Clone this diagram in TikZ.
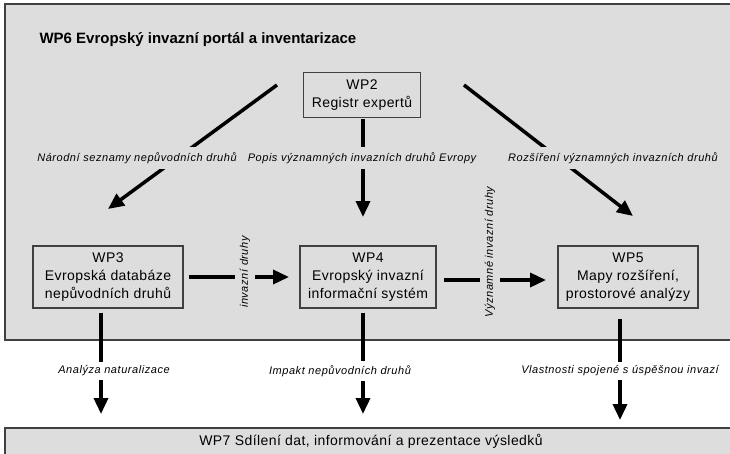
\documentclass[tikz,border=0pt]{standalone}
\usepackage{fontspec}
\setmainfont{Liberation Sans}
\newfontfamily\boxfont[LetterSpace=3]{Liberation Sans}
\newfontfamily\lblfont[LetterSpace=5]{Liberation Sans}
\usepackage{xcolor}
\definecolor{panelgray}{HTML}{DDDDDD}
\definecolor{edgegray}{HTML}{404040}
\usetikzlibrary{arrows.meta}

\tikzset{
  wpbox/.style={draw=edgegray, line width=1.2pt, fill=panelgray, align=center,
    minimum height=62pt, inner sep=0pt, font=\boxfont\fontsize{14}{18}\selectfont},
  flow/.style={line width=3.5pt, -{Triangle[length=16pt, width=14pt]}},
  lbl/.style={font=\lblfont\itshape\fontsize{11}{13}\selectfont, fill=panelgray,
    inner xsep=2pt, inner ysep=5pt},
  lblout/.style={lbl, fill=white, inner ysep=4pt},
}

\begin{document}
\begin{tikzpicture}[x=1pt, y=-1pt]
  \clip (0,0) rectangle (730,453);

  % --- WP6 panel ---
  \draw[edgegray, line width=1.5pt, fill=panelgray] (5,4) rectangle (745,340);
  \node[anchor=west, font=\bfseries\fontsize{15}{18}\selectfont] (wp6) at (36,40)
    {WP6 Evropský invazní portál a inventarizace};

  % --- WP7 panel ---
  \draw[edgegray, line width=1.5pt, fill=panelgray] (5,428) rectangle (745,470);
  \node[font=\boxfont\fontsize{14}{18}\selectfont] (wp7) at (371,441)
    {WP7 Sdílení dat, informování a prezentace výsledků};

  % --- work packages ---
  \node[wpbox, minimum width=117pt, minimum height=45pt] (wp2) at (362,95) {WP2\\Registr expertů};
  \node[wpbox, minimum width=150pt] (wp3) at (108,277) {WP3\\Evropská databáze\\nepůvodních druhů};
  \node[wpbox, minimum width=136pt] (wp4) at (368,277) {WP4\\Evropský invazní\\informační systém};
  \node[wpbox, minimum width=140pt] (wp5) at (628,277) {WP5\\Mapy rozšíření,\\prostorové analýzy};

  % --- free ends ---
  \coordinate (natstart) at (277,85);
  \coordinate (nattip) at (108,209);
  \coordinate (popistip) at (363,217);
  \coordinate (rozstart) at (464,85);
  \coordinate (roztip) at (633,216);
  \coordinate (invtip) at (289,277);
  \coordinate (vyztip) at (546,280);
  \coordinate (analtip) at (101,414);
  \coordinate (imptip) at (363,414);
  \coordinate (vlasttip) at (620,420);

  % --- flows ---
  \draw[flow] (natstart) -- (nattip);
  \draw[flow, shorten <=1pt] (wp2.south -| popistip) -- (popistip);
  \draw[flow] (rozstart) -- (roztip);
  \draw[flow, shorten <=5pt] (wp3.east |- invtip) -- (invtip);
  \draw[flow, shorten <=7pt] (wp4.east |- vyztip) -- (vyztip);
  \draw[flow, shorten <=4pt] (wp3.south -| analtip) -- (analtip);
  \draw[flow, shorten <=4pt] (wp4.south -| imptip) -- (imptip);
  \draw[flow, shorten <=10pt] (wp5.south -| vlasttip) -- (vlasttip);

  % --- flow labels ---
  \node[lbl] (nar) at (137,158) {Národní seznamy nepůvodních druhů};
  \node[lbl] (popis) at (362,158) {Popis významných invazních druhů Evropy};
  \node[lbl] (rozs) at (613,158) {Rozšíření významných invazních druhů};
  \node[lbl, rotate=90] (invd) at (245,272) {invazní druhy};
  \node[lbl, rotate=90] (vyzn) at (490,252) {Významné invazní druhy};
  \node[lblout] (anal) at (114,371) {Analýza naturalizace};
  \node[lblout] (impakt) at (340,371) {Impakt nepůvodních druhů};
  \node[lblout] (vlast) at (620,371) {Vlastnosti spojené s úspěšnou invazí};
\end{tikzpicture}
\end{document}
